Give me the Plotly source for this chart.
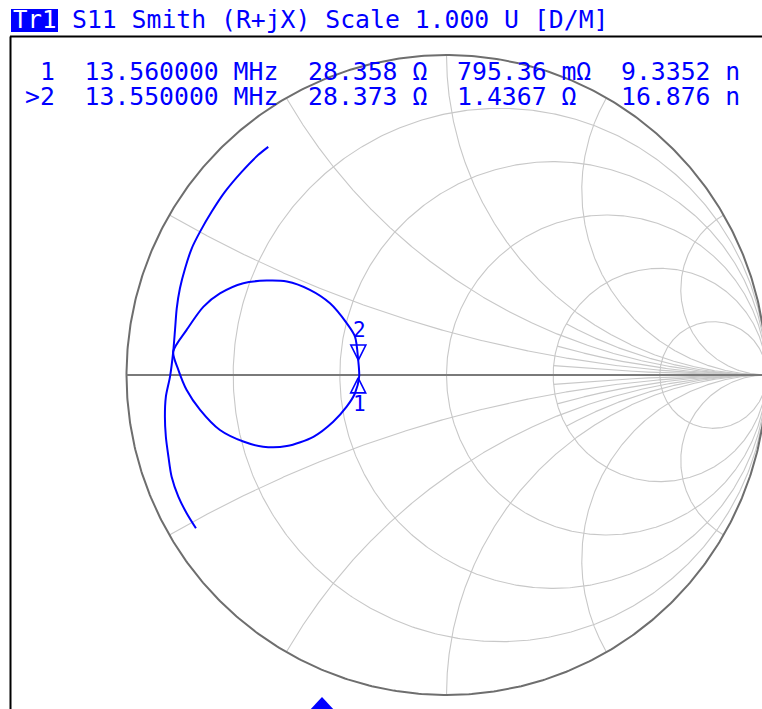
import numpy as np
import plotly.graph_objects as go

# ---------------- data (read from the analyzer display) ----------------
# S11 trace, reflection coefficient (real / imaginary)
arc_re = [-0.783, -0.812, -0.838, -0.859, -0.869, -0.877, -0.880, -0.877, -0.864, -0.854,
          -0.848, -0.843, -0.833, -0.817, -0.796, -0.770, -0.734, -0.692, -0.640, -0.588, -0.557]
arc_im = [-0.479, -0.432, -0.380, -0.318, -0.255, -0.193, -0.130, -0.068, -0.005, 0.073,
          0.146, 0.208, 0.271, 0.333, 0.396, 0.448, 0.510, 0.573, 0.635, 0.688, 0.713]
loop_re = [-0.854, -0.812, -0.760, -0.708, -0.635, -0.562, -0.499, -0.427, -0.364, -0.312,
           -0.286, -0.276, -0.273, -0.286, -0.312, -0.354, -0.416, -0.499, -0.573, -0.635,
           -0.708, -0.770, -0.812, -0.838, -0.854]
loop_im = [0.073, 0.141, 0.213, 0.255, 0.287, 0.295, 0.292, 0.266, 0.224, 0.162,
           0.120, 0.047, -0.005, -0.057, -0.099, -0.146, -0.193, -0.222, -0.224, -0.208,
           -0.172, -0.109, -0.047, 0.016, 0.073]

# markers
marker_ids = ["1", "2"]
marker_prefix = [" 1", ">2"]
marker_freq = ["13.560000 MHz", "13.550000 MHz"]
marker_R = [28.358, 28.373]          # ohm
marker_X = [0.79536, 1.4367]         # ohm
marker_X_text = ["795.36 mΩ", "1.4367 Ω"]
marker_L_text = ["9.3352 n", "16.876 n"]
Z0 = 50.0

# Smith grid values
r_circles = [0.2, 0.5, 1.0, 2.0, 5.0]
x_major = [0.268, 0.577, 1.0, 1.732, 3.732]
x_minor = [0.132, 0.414, 0.767]
minor_r_start = 2.0

title_text = "S11 Smith (R+jX) Scale 1.000 U [D/M]"
trace_label = "Tr1"

# ---------------- layout helpers ----------------
W, H = 762, 709
CX, CY, R = 446.5, 375.0, 320.0   # chart centre / radius (px)


def gamma(z):
    return (z - 1) / (z + 1)


def px(xp):      # px -> paper x
    return xp / W


def py(yp):      # px -> paper y
    return 1 - yp / H


BLUE = "#0000ff"
FONT = "DejaVu Sans Mono"

fig = go.Figure()

# grid
gx, gy = [], []
t = np.linspace(0, 2 * np.pi, 721)
for r in r_circles:
    c, rad = r / (1 + r), 1 / (1 + r)
    gx += list(c + rad * np.cos(t)) + [None]
    gy += list(rad * np.sin(t)) + [None]
rr = np.tan(np.linspace(0, np.pi / 2 * 0.9995, 900))
for xv in x_major:
    for s in (1, -1):
        g = gamma(rr + 1j * s * xv)
        gx += list(g.real) + [None]
        gy += list(g.imag) + [None]
for xv in x_minor:
    for s in (1, -1):
        g = gamma(minor_r_start + rr + 1j * s * xv)
        gx += list(g.real) + [None]
        gy += list(g.imag) + [None]
fig.add_trace(go.Scatter(x=gx, y=gy, mode="lines",
                         line=dict(color="#c8c8c8", width=1.1), hoverinfo="skip"))

# outer circle and real axis
fig.add_trace(go.Scatter(x=np.cos(t), y=np.sin(t), mode="lines",
                         line=dict(color="#6e6e6e", width=2), hoverinfo="skip"))
fig.add_trace(go.Scatter(x=[-1, 1], y=[0, 0], mode="lines",
                         line=dict(color="#7a7a7a", width=2), hoverinfo="skip"))

# S11 trace
fig.add_trace(go.Scatter(x=arc_re, y=arc_im, mode="lines",
                         line=dict(color=BLUE, width=2, shape="spline", smoothing=0.8)))
fig.add_trace(go.Scatter(x=loop_re, y=loop_im, mode="lines",
                         line=dict(color=BLUE, width=2, shape="spline", smoothing=0.8)))

# markers
mg = [gamma(complex(rv, xv) / Z0) for rv, xv in zip(marker_R, marker_X)]
mre = [g.real for g in mg]
mim = [g.imag for g in mg]
fig.add_trace(go.Scatter(
    x=mre, y=mim, mode="markers",
    marker=dict(symbol="arrow-up-open", size=15, angle=[0, 180], standoff=[7, 7.5],
                color=BLUE, line=dict(color=BLUE, width=1.6))))

annotations = []
for i, mid in enumerate(marker_ids):
    annotations.append(dict(x=mre[i], y=mim[i], xref="x", yref="y", text=mid,
                            showarrow=False, font=dict(family=FONT, size=21, color=BLUE),
                            yshift=(-33 if mid == "1" else 37.5), xshift=1))


def nb(s):
    return s.replace(" ", "\u00a0")


# readout rows
row_y = [71.5, 96.5]
for i in range(2):
    row = (marker_prefix[i] + "  " + marker_freq[i] + "  " + f"{marker_R[i]:.3f} Ω" + "  "
           + marker_X_text[i].ljust(9) + "  " + marker_L_text[i])
    annotations.append(dict(x=px(23), y=py(row_y[i]), xref="paper", yref="paper",
                            xanchor="left", yanchor="middle", text=nb(row), showarrow=False,
                            font=dict(family=FONT, size=24.75, color=BLUE)))

# title
annotations.append(dict(x=px(70), y=py(20), xref="paper", yref="paper", xanchor="left",
                        yanchor="middle", text=nb(title_text), showarrow=False,
                        font=dict(family=FONT, size=24.75, color=BLUE)))
annotations.append(dict(x=px(34.5), y=py(20.5), xref="paper", yref="paper", xanchor="center",
                        yanchor="middle", text=trace_label, showarrow=False,
                        font=dict(family=FONT, size=24, color="white")))

shapes = [
    dict(type="rect", xref="paper", yref="paper", x0=px(11), x1=px(58), y0=py(32), y1=py(9),
         fillcolor=BLUE, line=dict(width=0), layer="below"),
    dict(type="line", xref="paper", yref="paper", x0=px(10), x1=1.01, y0=py(36.5), y1=py(36.5),
         line=dict(color="black", width=2)),
    dict(type="line", xref="paper", yref="paper", x0=px(10.5), x1=px(10.5), y0=py(36.5), y1=-0.01,
         line=dict(color="black", width=2)),
    dict(type="path", xref="paper", yref="paper",
         path=f"M {px(322)} {py(697)} L {px(336)} {py(712)} L {px(308)} {py(712)} Z",
         fillcolor=BLUE, line=dict(width=0)),
]

fig.update_layout(
    width=W, height=H, margin=dict(l=0, r=0, t=0, b=0), autosize=False,
    paper_bgcolor="white", plot_bgcolor="white", showlegend=False,
    xaxis=dict(range=[-CX / R, (W - CX) / R], visible=False, fixedrange=True),
    yaxis=dict(range=[-(H - CY) / R, CY / R], visible=False, fixedrange=True),
    annotations=annotations, shapes=shapes, hovermode=False,
)

fig.write_html("out.html", config={"displayModeBar": False},
               post_script="document.body.style.margin='0';document.body.style.overflow='hidden';")
